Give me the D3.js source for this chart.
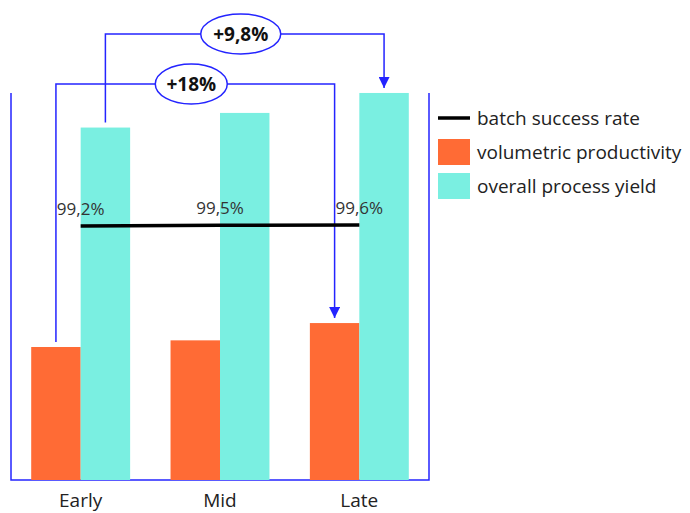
<!DOCTYPE html>
<html lang="en">
<head>
<meta charset="utf-8">
<title>Process stages</title>
<style>
  html, body { margin: 0; padding: 0; background: #fff; }
  text { font-family: "Open Sans", sans-serif; fill: #222; }
</style>
</head>
<body>
<div id="chart"></div>
<script src="https://cdnjs.cloudflare.com/ajax/libs/d3/7.8.5/d3.min.js"></script>
<script>
// data
var stages = ["Early", "Mid", "Late"];
var seriesNames = ["volumetric productivity", "overall process yield"];
var productivity = [100, 105, 118];
var processYield = [265, 276, 291];
var successRate = [99.2, 99.5, 99.6];
var successLabels = ["99,2%", "99,5%", "99,6%"];
var legendNames = ["batch success rate", "volumetric productivity", "overall process yield"];
var gainProductivity = "+18%";
var gainYield = "+9,8%";

var width = 690, height = 513;
var blue = "#2424ff";
var colors = { "volumetric productivity": "#ff6b35", "overall process yield": "#7aefe1" };

var frame = { left: 11, right: 429, top: 93, bottom: 480 };

var svg = d3.select("#chart").append("svg")
  .attr("width", width)
  .attr("height", height);

var defs = svg.append("defs");
defs.append("marker")
  .attr("id", "arrow")
  .attr("viewBox", "0 -5 10 10")
  .attr("refX", 10)
  .attr("refY", 0)
  .attr("markerUnits", "userSpaceOnUse")
  .attr("markerWidth", 11)
  .attr("markerHeight", 11)
  .attr("orient", "auto")
  .append("path")
  .attr("d", "M0,-5L10,0L0,5Z")
  .attr("fill", blue);

var x = d3.scaleBand()
  .domain(stages)
  .range([frame.left, frame.right])
  .paddingInner(0.29)
  .paddingOuter(0.145);

var xs = d3.scaleBand()
  .domain(seriesNames)
  .range([0, x.bandwidth()]);

var y = d3.scaleLinear().domain([0, 300]).range([frame.bottom, frame.bottom - 399]);
var y2 = d3.scaleLinear().domain([0, 100]).range([frame.bottom, 224]);

// frame
svg.append("path")
  .attr("d", "M" + frame.left + "," + frame.top + "V" + frame.bottom + "H" + frame.right + "V" + frame.top)
  .attr("fill", "none")
  .attr("stroke", blue)
  .attr("stroke-width", 1.5);

// bars
var groups = svg.selectAll(".stage")
  .data(stages)
  .enter().append("g")
  .attr("class", "stage")
  .attr("transform", function (d) { return "translate(" + x(d) + ",0)"; });

groups.append("rect")
  .attr("x", xs(seriesNames[0]))
  .attr("width", xs.bandwidth())
  .attr("y", function (d, i) { return y(productivity[i]); })
  .attr("height", function (d, i) { return y(0) - y(productivity[i]); })
  .attr("fill", colors[seriesNames[0]]);

groups.append("rect")
  .attr("x", xs(seriesNames[1]))
  .attr("width", xs.bandwidth())
  .attr("y", function (d, i) { return y(processYield[i]); })
  .attr("height", function (d, i) { return y(0) - y(processYield[i]); })
  .attr("fill", colors[seriesNames[1]]);

// x labels
svg.selectAll(".xlabel")
  .data(stages)
  .enter().append("text")
  .attr("class", "xlabel")
  .attr("x", function (d) { return x(d) + x.bandwidth() / 2; })
  .attr("y", 507)
  .attr("text-anchor", "middle")
  .style("font-size", "19px")
  .text(function (d) { return d; });

// batch success rate line
var cx = function (d) { return x(d) + x.bandwidth() / 2; };
var line = d3.line()
  .x(function (d, i) { return cx(stages[i]); })
  .y(function (d) { return y2(d); });

// gain annotations
function center(stage, s) { return x(stage) + xs(s) + xs.bandwidth() / 2; }

function gain(s, values, topY, label, rx, gap) {
  var x0 = center(stages[0], s), x1 = center(stages[2], s);
  var g = svg.append("g");
  g.append("path")
    .attr("d", "M" + x0 + "," + (y(values[0]) - gap) + "V" + topY + "H" + x1 + "V" + (y(values[2]) - gap))
    .attr("fill", "none")
    .attr("stroke", blue)
    .attr("stroke-width", 1.5)
    .attr("marker-end", "url(#arrow)");
  var mx = (x0 + x1) / 2 - 4;
  g.append("ellipse")
    .attr("cx", mx).attr("cy", topY)
    .attr("rx", rx).attr("ry", 20)
    .attr("fill", "#fff")
    .attr("stroke", blue)
    .attr("stroke-width", 1.5);
  g.append("text")
    .attr("x", mx).attr("y", topY + 7)
    .attr("text-anchor", "middle")
    .style("font-size", "19px")
    .style("font-weight", "bold")
    .style("fill", "#111")
    .text(label);
}

gain(seriesNames[0], productivity, 84, gainProductivity, 36, 5);
gain(seriesNames[1], processYield, 34, gainYield, 40, 5);

svg.append("path")
  .datum(successRate)
  .attr("d", line)
  .attr("fill", "none")
  .attr("stroke", "#000")
  .attr("stroke-width", 3.5);

svg.selectAll(".rlabel")
  .data(successRate)
  .enter().append("text")
  .attr("class", "rlabel")
  .attr("x", function (d, i) { return cx(stages[i]); })
  .attr("y", function (d) { return y2(d) - 11; })
  .attr("text-anchor", "middle")
  .style("font-size", "17px")
  .style("fill", "#333")
  .text(function (d, i) { return successLabels[i]; });

// legend
var legend = svg.selectAll(".legend")
  .data(legendNames)
  .enter().append("g")
  .attr("class", "legend")
  .attr("transform", function (d, i) { return "translate(438," + (118 + i * 34) + ")"; });

legend.each(function (d, i) {
  var g = d3.select(this);
  if (i === 0) {
    g.append("line").attr("x1", 0).attr("x2", 32).attr("y1", 0).attr("y2", 0)
      .attr("stroke", "#000").attr("stroke-width", 3.5);
  } else {
    g.append("rect").attr("x", 0).attr("y", -13).attr("width", 32).attr("height", 26)
      .attr("fill", colors[d]);
  }
  g.append("text")
    .attr("x", 39).attr("y", 7)
    .style("font-size", "19px")
    .text(d);
});
</script>
</body>
</html>
